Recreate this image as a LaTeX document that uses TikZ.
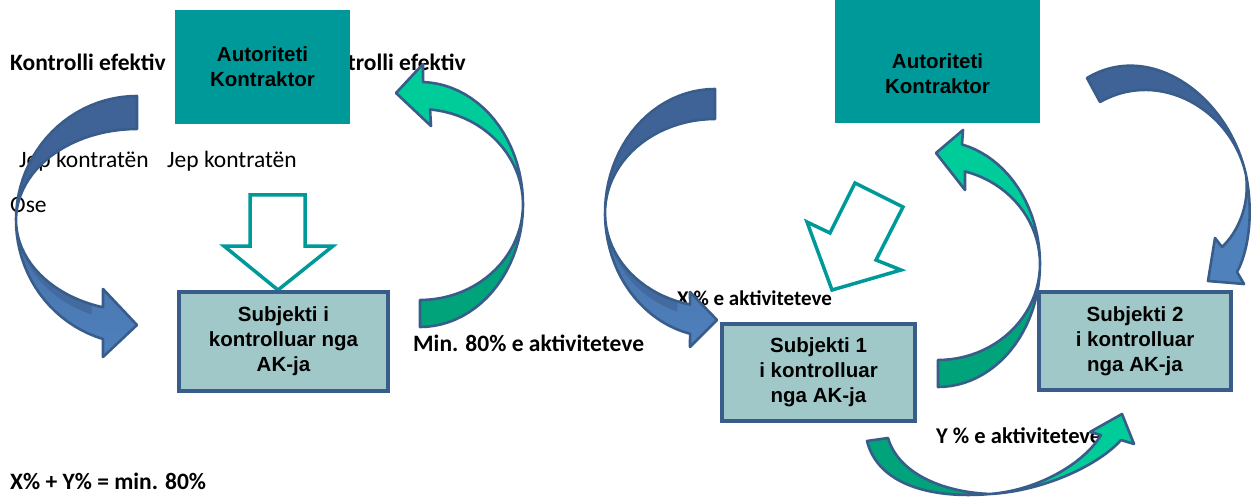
\documentclass[tikz,border=0pt]{standalone}
\usepackage{fontspec}
\setmainfont{Liberation Sans}
\newfontfamily\calibrifont{Carlito}
\definecolor{akteal}{RGB}{0,153,153}
\definecolor{subjfill}{RGB}{161,200,200}
\definecolor{edgeblue}{RGB}{56,93,138}
\definecolor{bluedark}{RGB}{63,99,151}
\definecolor{bluelight}{RGB}{79,129,189}
\definecolor{greenlight}{RGB}{0,204,153}
\definecolor{greendark}{RGB}{0,163,122}
\newcommand\akfont{\bfseries\fontsize{20.5}{25}\selectfont}
\newcommand\lblbold{\calibrifont\bfseries\fontsize{23.5}{28}\selectfont}
\newcommand\lblreg{\calibrifont\fontsize{23.5}{28}\selectfont}
\newcommand\lblsmall{\calibrifont\bfseries\fontsize{21}{25}\selectfont}
\newcommand\lblmid{\calibrifont\bfseries\fontsize{22.5}{27}\selectfont}
\begin{document}
\begin{tikzpicture}[x=1pt,y=-1pt,
  authbox/.style={fill=akteal, inner sep=0pt, align=center, font=\akfont},
  subjbox/.style={fill=subjfill, draw=edgeblue, line width=4pt, inner sep=0pt, align=center, font=\akfont},
  hollow/.style={draw=akteal, line width=3.5pt, fill=white, line join=miter},
  arrowedge/.style={draw=edgeblue, line width=2.6pt, line join=round},
  lbl/.style={inner sep=0pt, anchor=base west},
  smp/.style={samples=45, variable=\t}]
\fill[white] (0,0) rectangle (1252,497);
\useasboundingbox (0,0) rectangle (1252,497);

% ---- free labels ----
\node[lbl, font=\lblbold] (ctrlL) at (10,71) {Kontrolli efektiv};
\node[lbl, font=\lblbold] (ctrlR) at (310,71) {Kontrolli efektiv};
\node[lbl, font=\lblreg] (jepA) at (19,168) {Jep kontratën};
\node[lbl, font=\lblreg] (jepB) at (167,168) {Jep kontratën};
\node[lbl, font=\lblreg] (ose) at (10,212) {Ose};
\node[lbl, font=\lblbold] (minA) at (413,351) {Min. 80\% e aktiviteteve};
\node[lbl, font=\lblsmall] (xact) at (677,305) {X \% e aktiviteteve};
\node[lbl, font=\lblmid] (yact) at (936,443) {Y \% e aktiviteteve};
\node[lbl, font=\lblbold] (sum) at (10,489) {X\% + Y\% = min. 80\%};

% ---- contracting authority boxes ----
\node[authbox, minimum width=175, minimum height=114] (akA) at (262.5,67) {Autoriteti\\Kontraktor};
\node[authbox, minimum width=205, minimum height=123] (akB) at (937.5,61.5) {};
\node[inner sep=0pt, align=center, font=\akfont] (akBtext) at (937.5,73.5) {Autoriteti\\Kontraktor};

% ---- hollow contract arrows ----
\draw[hollow] (250,195) -- (305,195) -- (305,246) -- (333,246) -- (278,290)
  -- (224,246) -- (250,246) -- cycle;
\draw[hollow] (855,183) -- (903,207) -- (876,260) -- (901,270) -- (832,290)
  -- (807,222) -- (830,233) -- cycle;

% ---- controlled subjects ----
\node[subjbox, minimum width=209, minimum height=99] (subA) at (283.5,341.5) {Subjekti i\\kontrolluar nga\\AK-ja};
\node[subjbox, minimum width=193, minimum height=97] (sub1) at (818.5,372.5) {Subjekti 1\\i kontrolluar\\nga AK-ja};
\node[subjbox, minimum width=192, minimum height=98] (sub2) at (1135,341) {Subjekti 2\\i kontrolluar\\nga AK-ja};

% ---- curved blue arrow, left diagram ----
\fill[bluedark] plot[smp, domain=270:180] ({137+121*cos(\t)},{220+124*sin(\t)})
  -- plot[smp, domain=180:270] ({137+121*cos(\t)},{220+91*sin(\t)}) -- cycle;
\shade[top color=bluedark!60!bluelight, bottom color=bluelight]
  plot[smp, domain=180:106.3] ({137+121*cos(\t)},{220+124*sin(\t)})
  -- (103,357) -- (137,325) -- (103,289)
  -- plot[smp, domain=106.3:180] ({137+121*cos(\t)},{220+91*sin(\t)}) -- cycle;
\fill[bluedark!75!bluelight] plot[smp, domain=180:112] ({137+121*cos(\t)},{220+102*sin(\t)})
  -- plot[smp, domain=112:180] ({137+121*cos(\t)},{220+91*sin(\t)}) -- cycle;
\draw[arrowedge] plot[smp, domain=270:106.3] ({137+121*cos(\t)},{220+124*sin(\t)})
  -- (103,357) -- (137,325) -- (103,289)
  -- plot[smp, domain=106.3:270] ({137+121*cos(\t)},{220+91*sin(\t)}) -- cycle;

% ---- curved green arrow, left diagram ----
\fill[greendark] plot[smp, domain=90:0] ({420+103*cos(\t)},{204.5+122.5*sin(\t)})
  -- plot[smp, domain=0:90] ({420+103*cos(\t)},{204.5+95.5*sin(\t)}) -- cycle;
\fill[greenlight] plot[smp, domain=0:-88.3] ({420+103*cos(\t)},{204.5+122.5*sin(\t)})
  -- (423,64) -- (396,93) -- (431,126)
  -- plot[smp, domain=-84.4:0] ({420+103*cos(\t)},{204.5+95.5*sin(\t)}) -- cycle;
\draw[arrowedge] plot[smp, domain=90:-88.3] ({420+103*cos(\t)},{204.5+122.5*sin(\t)})
  -- (423,64) -- (396,93) -- (431,126)
  -- plot[smp, domain=-84.4:90] ({420+103*cos(\t)},{204.5+95.5*sin(\t)}) -- cycle;

% ---- curved blue arrow to subject 1 ----
\fill[bluedark] plot[smp, domain=270:180] ({715+110*cos(\t)},{213+124*sin(\t)})
  -- plot[smp, domain=180:270] ({715+110*cos(\t)},{213+94*sin(\t)}) -- cycle;
\shade[top color=bluedark!60!bluelight, bottom color=bluelight]
  plot[smp, domain=180:103.1] ({715+110*cos(\t)},{213+124*sin(\t)})
  -- (690,347) -- (717,320) -- (690,292)
  -- plot[smp, domain=103.1:180] ({715+110*cos(\t)},{213+94*sin(\t)}) -- cycle;
\fill[bluedark!75!bluelight] plot[smp, domain=180:110] ({715+110*cos(\t)},{213+105*sin(\t)})
  -- plot[smp, domain=110:180] ({715+110*cos(\t)},{213+94*sin(\t)}) -- cycle;
\draw[arrowedge] plot[smp, domain=270:103.1] ({715+110*cos(\t)},{213+124*sin(\t)})
  -- (690,347) -- (717,320) -- (690,292)
  -- plot[smp, domain=103.1:270] ({715+110*cos(\t)},{213+94*sin(\t)}) -- cycle;

% ---- curved green arrow from subject 1 back to the authority ----
\fill[greendark] plot[smp, domain=90:0] ({938+102*cos(\t)},{264+123*sin(\t)})
  -- plot[smp, domain=0:90] ({938+102*cos(\t)},{264+96*sin(\t)}) -- cycle;
\fill[greenlight] plot[smp, domain=0:-76.4] ({938+102*cos(\t)},{264+123*sin(\t)})
  -- (963,130) -- (936,153) -- (965,190)
  -- plot[smp, domain=-74.65:0] ({938+102*cos(\t)},{264+96*sin(\t)}) -- cycle;
\draw[arrowedge] plot[smp, domain=90:-76.4] ({938+102*cos(\t)},{264+123*sin(\t)})
  -- (963,130) -- (936,153) -- (965,190)
  -- plot[smp, domain=-74.65:90] ({938+102*cos(\t)},{264+96*sin(\t)}) -- cycle;

% ---- curved blue arrow to subject 2 ----
\fill[bluedark] (1087,78) .. controls (1150,40) and (1228,95) .. (1246,175)
  .. controls (1232,110) and (1160,68) .. (1100,102) -- cycle;
\fill[bluelight] (1246,175) .. controls (1254,215) and (1248,252) .. (1237,272)
  -- (1244,284) -- (1208,281) -- (1215,238) -- (1222,247)
  .. controls (1238,232) and (1250,205) .. (1246,175) -- cycle;
\draw[arrowedge] (1087,78) .. controls (1150,40) and (1228,95) .. (1246,175)
  .. controls (1254,215) and (1248,252) .. (1237,272)
  -- (1244,284) -- (1208,281) -- (1215,238) -- (1222,247)
  .. controls (1238,232) and (1250,205) .. (1246,175)
  .. controls (1232,110) and (1160,68) .. (1100,102) -- cycle;

% ---- curved green arrow from subject 1 to subject 2 ----
\fill[greendark] (867,441) .. controls (878,485) and (932,499) .. (990,494)
  .. controls (940,492) and (898,472) .. (888,438) -- cycle;
\fill[greenlight] (990,494) .. controls (1045,491) and (1100,464) .. (1121,440)
  -- (1134,444) -- (1122,414) -- (1090,432) -- (1101,435)
  .. controls (1085,462) and (1040,490) .. (990,494) -- cycle;
\draw[arrowedge] (867,441) .. controls (878,485) and (932,499) .. (990,494)
  .. controls (1045,491) and (1100,464) .. (1121,440)
  -- (1134,444) -- (1122,414) -- (1090,432) -- (1101,435)
  .. controls (1085,462) and (1040,490) .. (990,494)
  .. controls (940,492) and (898,472) .. (888,438) -- cycle;
\end{tikzpicture}
\end{document}
